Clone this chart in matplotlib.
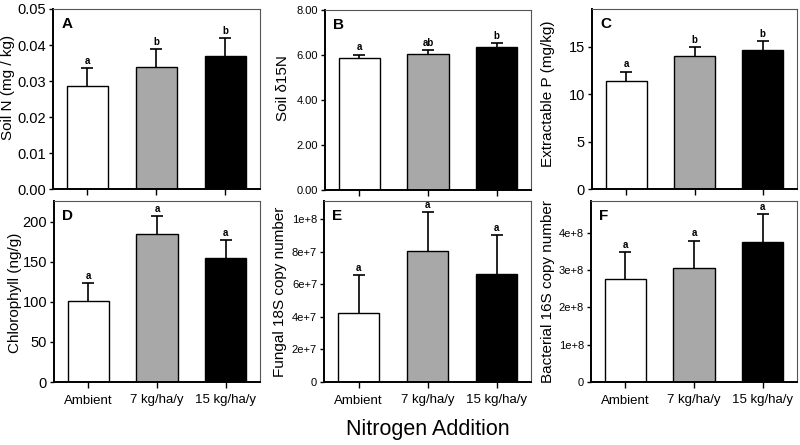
import matplotlib
matplotlib.use("Agg")
import matplotlib.pyplot as plt
from matplotlib.ticker import FixedLocator, FixedFormatter

plt.rcParams['font.family'] = ['Liberation Sans', 'DejaVu Sans']

categories = ["Ambient", "7 kg/ha/y", "15 kg/ha/y"]
bar_colors = ["white", "#a8a8a8", "black"]

soilN_mean = [0.0285, 0.0338, 0.0370]
soilN_err = [0.0051, 0.0051, 0.0050]
soilN_letters = ["a", "b", "b"]

d15N_mean = [5.85, 6.06, 6.37]
d15N_err = [0.17, 0.15, 0.15]
d15N_letters = ["a", "ab", "b"]

extP_mean = [11.4, 14.05, 14.7]
extP_err = [1.0, 0.95, 0.9]
extP_letters = ["a", "b", "b"]

chl_mean = [100.7, 185.4, 154.5]
chl_err = [23.0, 21.6, 22.5]
chl_letters = ["a", "a", "a"]

fungal_mean = [4.22e7, 8.05e7, 6.62e7]
fungal_err = [2.34e7, 2.35e7, 2.41e7]
fungal_letters = ["a", "a", "a"]

bact_mean = [2.76e8, 3.06e8, 3.76e8]
bact_err = [0.73e8, 0.73e8, 0.74e8]
bact_letters = ["a", "a", "a"]

panels = [
    dict(tag="A", mean=soilN_mean, err=soilN_err, letters=soilN_letters,
         ylabel="Soil N (mg / kg)", ylim=(0, 0.05),
         ticks=[0, 0.01, 0.02, 0.03, 0.04, 0.05],
         ticklabels=["0.00", "0.01", "0.02", "0.03", "0.04", "0.05"],
         tfs=10.5, pos=[53, 9, 260, 189], lx=-0.184, ly=0.567),
    dict(tag="B", mean=d15N_mean, err=d15N_err, letters=d15N_letters,
         ylabel="Soil δ15N", ylim=(0, 8),
         ticks=[0, 2, 4, 6, 8],
         ticklabels=["0.00", "2.00", "4.00", "6.00", "8.00"],
         tfs=8, pos=[325, 10, 531, 190], lx=-0.17, ly=0.567),
    dict(tag="C", mean=extP_mean, err=extP_err, letters=extP_letters,
         ylabel="Extractable P (mg/kg)", ylim=(0, 19),
         ticks=[0, 5, 10, 15],
         ticklabels=["0", "5", "10", "15"],
         tfs=10.5, pos=[592, 9, 797, 189], lx=-0.18, ly=0.53),
    dict(tag="D", mean=chl_mean, err=chl_err, letters=chl_letters,
         ylabel="Chlorophyll (ng/g)", ylim=(0, 226),
         ticks=[0, 50, 100, 150, 200],
         ticklabels=["0", "50", "100", "150", "200"],
         tfs=10.5, pos=[54, 201, 260, 382], lx=-0.155, ly=0.49),
    dict(tag="E", mean=fungal_mean, err=fungal_err, letters=fungal_letters,
         ylabel="Fungal 18S copy number", ylim=(0, 1.11e8),
         ticks=[0, 2e7, 4e7, 6e7, 8e7, 1e8],
         ticklabels=["0", "2e+7", "4e+7", "6e+7", "8e+7", "1e+8"],
         tfs=8, pos=[324, 201, 531, 382], lx=-0.18, ly=0.5),
    dict(tag="F", mean=bact_mean, err=bact_err, letters=bact_letters,
         ylabel="Bacterial 16S copy number", ylim=(0, 4.85e8),
         ticks=[0, 1e8, 2e8, 3e8, 4e8],
         ticklabels=["0", "1e+8", "2e+8", "3e+8", "4e+8"],
         tfs=8, pos=[591, 201, 797, 382], lx=-0.175, ly=0.5),
]

W, H = 800, 445
fig = plt.figure(figsize=(8, 4.45), dpi=100)

for i, p in enumerate(panels):
    x0, y0, x1, y1 = p["pos"]
    ax = fig.add_axes([x0 / W, 1 - y1 / H, (x1 - x0) / W, (y1 - y0) / H])
    xs = list(range(len(categories)))
    ax.bar(xs, p["mean"], width=0.6, color=bar_colors, edgecolor="black",
           linewidth=1.0, zorder=2)
    _, caps, _ = ax.errorbar(xs, p["mean"], yerr=[[0, 0, 0], p["err"]],
                             fmt="none", ecolor="black", elinewidth=1.2,
                             capsize=4.5, capthick=1.2, zorder=3)
    caps[0].set_visible(False)
    for x, m, e, lt in zip(xs, p["mean"], p["err"], p["letters"]):
        ax.annotate(lt, (x, m + e), xytext=(0, 1.5), textcoords="offset points",
                    ha="center", va="bottom", fontsize=7, fontweight="bold",
                    annotation_clip=False)
    ax.set_xlim(-0.5, 2.5)
    ax.set_ylim(*p["ylim"])
    ax.yaxis.set_major_locator(FixedLocator(p["ticks"]))
    ax.yaxis.set_major_formatter(FixedFormatter(p["ticklabels"]))
    ax.set_xticks(xs)
    if i >= 3:
        ax.set_xticklabels(categories, fontsize=9.5)
    else:
        ax.set_xticklabels([])
    ax.tick_params(axis="y", labelsize=p["tfs"], direction="out", length=3,
                   width=1, pad=2)
    ax.tick_params(axis="x", direction="out", length=4, width=1, pad=5)
    for s in ["left", "bottom"]:
        ax.spines[s].set_linewidth(1.4)
    for s in ["top", "right"]:
        ax.spines[s].set_linewidth(0.8)
        ax.spines[s].set_color("#555555")
    ax.set_ylabel(p["ylabel"], fontsize=11)
    ax.yaxis.set_label_coords(p["lx"], p["ly"])
    ax.text(0.04, 0.955, p["tag"], transform=ax.transAxes, fontsize=11,
            fontweight="bold", ha="left", va="top")

fig.text(428 / W, 1 - 430 / H, "Nitrogen Addition", fontsize=15.5,
         ha="center", va="center")

fig.savefig("out.png", dpi=100)
